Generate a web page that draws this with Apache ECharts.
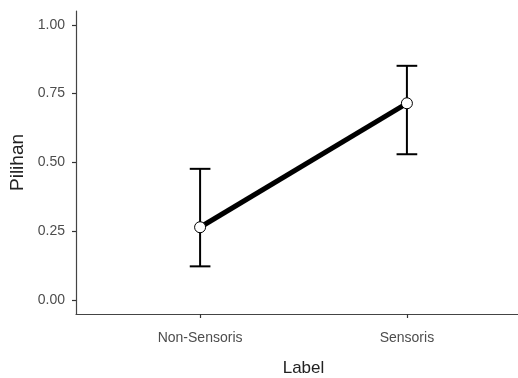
<!DOCTYPE html>
<html>
<head>
<meta charset="utf-8">
<script src="https://cdn.jsdelivr.net/npm/echarts@6/dist/echarts.min.js"></script>
<style>
  html, body { margin: 0; padding: 0; background: #fff; }
  #chart { width: 518px; height: 378px; }
</style>
</head>
<body>
<div id="chart"></div>
<script>
// data
var labels = ['Non-Sensoris', 'Sensoris'];
var means = [0.265, 0.715];
var lower = [0.123, 0.530];
var upper = [0.477, 0.851];
var yTicks = [0, 0.25, 0.5, 0.75, 1];

var font = '"Liberation Sans", Arial, sans-serif';

// x positions 1..n like ggplot's discrete scale
var xPos = labels.map(function (d, i) { return i + 1; });
var lineData = means.map(function (v, i) { return [xPos[i], v]; });
var errData = means.map(function (v, i) { return [xPos[i], lower[i], upper[i]]; });

var chart = echarts.init(document.getElementById('chart'));
var option = {
    animation: false,
    backgroundColor: '#ffffff',
    grid: {
        left: 76,
        right: -13,
        top: 11,
        bottom: 64,
        containLabel: false,
        outerBoundsMode: 'none'
    },
    xAxis: {
        type: 'value',
        min: 0.4,
        max: 2.6,
        name: 'Label',
        nameLocation: 'middle',
        nameGap: 46,
        nameTextStyle: { color: '#222', fontSize: 17, fontFamily: font },
        splitLine: { show: false },
        axisLine: { show: true, onZero: false, lineStyle: { color: '#444', width: 1.2 } },
        axisTick: {
            show: true, length: 4, inside: false,
            customValues: xPos,
            lineStyle: { color: '#333', width: 1.2 }
        },
        axisLabel: {
            customValues: xPos,
            margin: 17,
            color: '#4d4d4d',
            fontSize: 14,
            fontFamily: font,
            formatter: function (v) { return labels[Math.round(v) - 1] || ''; }
        }
    },
    yAxis: {
        type: 'value',
        min: -0.05,
        max: 1.05,
        name: 'Pilihan',
        nameLocation: 'middle',
        nameRotate: 90,
        nameGap: 38,
        nameTextStyle: { color: '#222', fontSize: 19, fontFamily: font },
        splitLine: { show: false },
        axisLine: { show: true, onZero: false, lineStyle: { color: '#444', width: 1.2 } },
        axisTick: {
            show: true, length: 4, inside: false,
            customValues: yTicks,
            lineStyle: { color: '#333', width: 1.2 }
        },
        axisLabel: {
            customValues: yTicks,
            margin: 11,
            color: '#4d4d4d',
            fontSize: 14,
            fontFamily: font,
            formatter: function (v) { return v.toFixed(2); }
        }
    },
    series: [
        {
            type: 'custom',
            z: 1,
            data: errData,
            renderItem: function (params, api) {
                var x = api.value(0);
                var lo = api.coord([x, api.value(1)]);
                var hi = api.coord([x, api.value(2)]);
                var half = api.size([0.1, 0])[0] / 2;
                var style = { stroke: '#000', lineWidth: 2 };
                return {
                    type: 'group',
                    children: [
                        { type: 'line', shape: { x1: lo[0], y1: lo[1], x2: hi[0], y2: hi[1] }, style: style },
                        { type: 'line', shape: { x1: hi[0] - half, y1: hi[1], x2: hi[0] + half, y2: hi[1] }, style: style },
                        { type: 'line', shape: { x1: lo[0] - half, y1: lo[1], x2: lo[0] + half, y2: lo[1] }, style: style }
                    ]
                };
            }
        },
        {
            type: 'line',
            z: 3,
            data: lineData,
            symbol: 'circle',
            symbolSize: 11,
            showSymbol: true,
            lineStyle: { color: '#000', width: 5 },
            itemStyle: { color: '#fff', borderColor: '#000', borderWidth: 1 }
        }
    ]
};
chart.setOption(option);
</script>
</body>
</html>
